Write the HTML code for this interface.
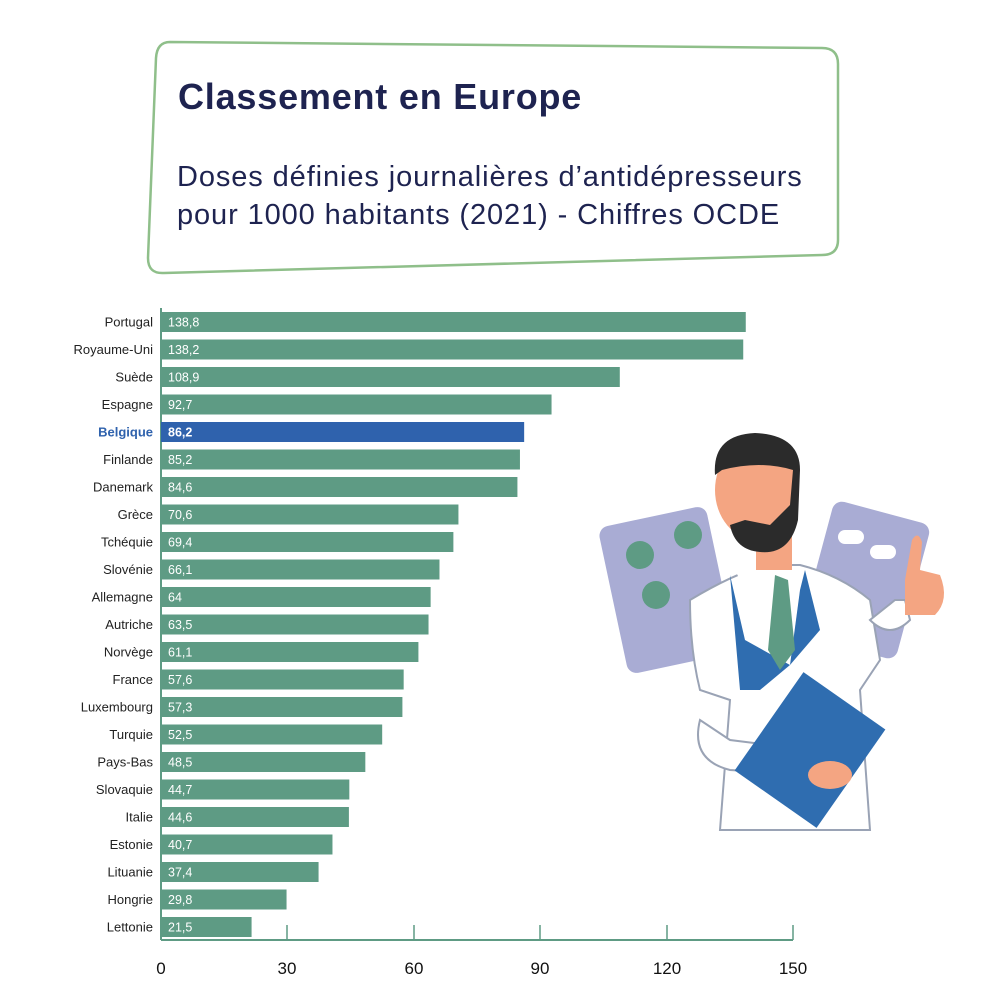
<!DOCTYPE html>
<html><head><meta charset="utf-8"><style>
body{margin:0;background:#fff;}
svg{display:block;font-family:"Liberation Sans",sans-serif;}
</style></head><body>
<svg width="1000" height="1000" viewBox="0 0 1000 1000" xmlns="http://www.w3.org/2000/svg">
<path d="M170 42 L822 48 Q838 48 838 64 L838 240 Q838 255 822 255 L164 273 Q148 274 148 258 L156 58 Q157 42 170 42 Z" fill="#fff" stroke="#8fbf8a" stroke-width="2.5"/>
<text x="178" y="109" font-size="36" font-weight="bold" fill="#1e2350" letter-spacing="0.8">Classement en Europe</text>
<text x="177" y="186" font-size="29" fill="#1e2350" letter-spacing="0.9">Doses définies journalières d’antidépresseurs</text>
<text x="177" y="224" font-size="29" fill="#1e2350" letter-spacing="0.9">pour 1000 habitants (2021) - Chiffres OCDE</text>

<!-- illustration -->
<g>
<rect x="612" y="515" width="110" height="150" rx="10" fill="#a9acd4" transform="rotate(-12 667 590)"/>
<circle cx="640" cy="555" r="14" fill="#5e9b84"/><circle cx="688" cy="535" r="14" fill="#5e9b84"/>
<circle cx="656" cy="595" r="14" fill="#5e9b84"/>
<rect x="815" y="510" width="100" height="140" rx="10" fill="#a9acd4" transform="rotate(15 865 580)"/>
<rect x="838" y="530" width="26" height="14" rx="7" fill="#fff"/><rect x="870" y="545" width="26" height="14" rx="7" fill="#fff"/>
<path d="M690 600 Q740 570 770 565 L800 565 Q840 575 870 600 L880 660 L860 690 L870 830 L720 830 L730 700 L700 690 Q690 650 690 600 Z" fill="#fff" stroke="#9aa3b5" stroke-width="2"/>
<path d="M735 570 L770 640 L790 665 L800 575 L780 560 Z" fill="#fff"/>
<path d="M730 575 L745 640 L790 665 L760 690 L740 690 Z" fill="#2f6db0"/>
<path d="M805 570 L820 630 L790 665 L800 590 Z" fill="#2f6db0"/>
<path d="M775 575 L788 580 L795 650 L780 670 L768 650 Z" fill="#5e9b84"/>
<rect x="756" y="530" width="36" height="40" fill="#f4a582"/>
<ellipse cx="757" cy="490" rx="42" ry="50" fill="#f4a582"/>
<path d="M715 475 Q712 435 755 433 Q800 435 800 470 L798 520 Q790 555 760 552 Q735 550 730 525 L745 520 L770 525 L790 505 L793 470 Q760 460 722 470 Z" fill="#2b2b2b"/>
<path d="M700 720 Q690 760 730 770 L810 775 L810 750 L730 740 Z" fill="#fff" stroke="#9aa3b5" stroke-width="2"/>
<rect x="760" y="690" width="100" height="120" fill="#2f6db0" transform="rotate(35 810 750)"/>
<ellipse cx="830" cy="775" rx="22" ry="14" fill="#f4a582"/>
<path d="M870 620 Q890 640 910 620 L905 600 L895 600 Z" fill="#fff" stroke="#9aa3b5" stroke-width="2"/>
<path d="M905 580 L912 540 Q918 530 922 542 L920 570 L940 575 Q950 600 935 615 L905 615 Z" fill="#f4a582"/>
</g>

<g font-size="13" fill="#222" text-anchor="end" id="labels"></g>
<line x1="161" y1="308" x2="161" y2="940" stroke="#5e9b84" stroke-width="2"/>
<line x1="161" y1="940" x2="793" y2="940" stroke="#5e9b84" stroke-width="2"/>
<g stroke="#5e9b84" stroke-width="1.5">
<line x1="287" y1="925" x2="287" y2="940"/><line x1="414" y1="925" x2="414" y2="940"/>
<line x1="540" y1="925" x2="540" y2="940"/><line x1="667" y1="925" x2="667" y2="940"/>
<line x1="793" y1="925" x2="793" y2="940"/></g>
<g font-size="17" fill="#111" text-anchor="middle">
<text x="161" y="974">0</text><text x="287" y="974">30</text><text x="414" y="974">60</text>
<text x="540" y="974">90</text><text x="667" y="974">120</text><text x="793" y="974">150</text></g>
<g id="bars"></g>
</svg>
<script>
var d=[["Portugal",138.8],["Royaume-Uni",138.2],["Suède",108.9],["Espagne",92.7],["Belgique",86.2],["Finlande",85.2],["Danemark",84.6],["Grèce",70.6],["Tchéquie",69.4],["Slovénie",66.1],["Allemagne",64],["Autriche",63.5],["Norvège",61.1],["France",57.6],["Luxembourg",57.3],["Turquie",52.5],["Pays-Bas",48.5],["Slovaquie",44.7],["Italie",44.6],["Estonie",40.7],["Lituanie",37.4],["Hongrie",29.8],["Lettonie",21.5]];
var ns="http://www.w3.org/2000/svg",g=document.getElementById("bars"),lg=document.getElementById("labels");
d.forEach(function(r,i){var y=322+i*27.5,b=r[0]=="Belgique";
var rc=document.createElementNS(ns,"rect");rc.setAttribute("x",161);rc.setAttribute("y",y-10);rc.setAttribute("width",r[1]*4.213);rc.setAttribute("height",20);rc.setAttribute("fill",b?"#2f62ad":"#5e9b84");g.appendChild(rc);
var t=document.createElementNS(ns,"text");t.setAttribute("x",168);t.setAttribute("y",y+4.5);t.setAttribute("font-size","12.5");t.setAttribute("fill","#fff");if(b)t.setAttribute("font-weight","bold");t.textContent=String(r[1]).replace(".",",");g.appendChild(t);
var l=document.createElementNS(ns,"text");l.setAttribute("x",153);l.setAttribute("y",y+4.5);if(b){l.setAttribute("fill","#2f62ad");l.setAttribute("font-weight","bold");}l.textContent=r[0];lg.appendChild(l);});
</script>
</body></html>
